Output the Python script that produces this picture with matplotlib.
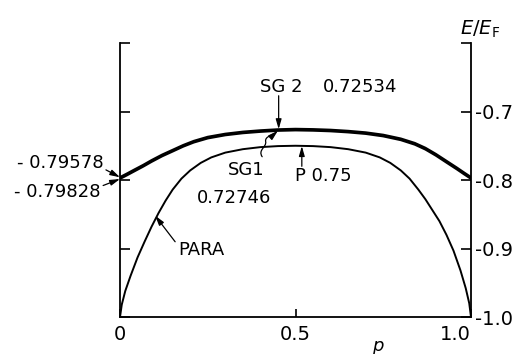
import matplotlib
matplotlib.use("Agg")
import matplotlib.pyplot as plt
from matplotlib.patches import FancyArrowPatch
from matplotlib.path import Path

plt.rcParams['font.family'] = ['DejaVu Sans']
plt.rcParams['axes.unicode_minus'] = False

# Paramagnetic (PARA) state energy versus polarization p
p_para = [0.000, 0.005, 0.015, 0.030, 0.050, 0.070, 0.090, 0.110, 0.130, 0.150,
          0.175, 0.200, 0.230, 0.260, 0.300, 0.350, 0.400, 0.450, 0.500, 0.550,
          0.600, 0.650, 0.700, 0.740, 0.770, 0.800, 0.825, 0.850, 0.870, 0.890,
          0.910, 0.930, 0.950, 0.970, 0.985, 0.995, 1.000]
e_para = [-1.000, -0.982, -0.962, -0.940, -0.913, -0.890, -0.868, -0.848, -0.830, -0.814,
          -0.798, -0.786, -0.775, -0.767, -0.760, -0.755, -0.752, -0.7505, -0.750, -0.7505,
          -0.752, -0.755, -0.760, -0.767, -0.775, -0.786, -0.798, -0.814, -0.828, -0.844,
          -0.860, -0.880, -0.903, -0.932, -0.958, -0.980, -1.000]

# Spin-glass solutions SG1 and SG2
p_sg = [0.000, 0.020, 0.040, 0.066, 0.090, 0.120, 0.150, 0.180, 0.210, 0.250,
        0.300, 0.350, 0.400, 0.450, 0.500, 0.550, 0.600, 0.650, 0.700, 0.750,
        0.800, 0.840, 0.870, 0.900, 0.930, 0.960, 0.980, 1.000]
e_sg2 = [-0.79578, -0.7905, -0.7850, -0.7780, -0.7710, -0.7630, -0.7560, -0.7490, -0.7430, -0.7370,
         -0.7325, -0.7295, -0.7275, -0.7260, -0.72534, -0.7258, -0.7267, -0.7283, -0.7305, -0.7340,
         -0.7395, -0.7460, -0.7530, -0.7620, -0.7720, -0.7820, -0.7890, -0.79578]
e_sg1 = [-0.79828, -0.7930, -0.7875, -0.7804, -0.7734, -0.7653, -0.7583, -0.7512, -0.7452, -0.7392,
         -0.7346, -0.7316, -0.7296, -0.7281, -0.72746, -0.7279, -0.7288, -0.7304, -0.7326, -0.7362,
         -0.7417, -0.7483, -0.7554, -0.7644, -0.7745, -0.7845, -0.7915, -0.79828]

y_ticks = [-1.0, -0.9, -0.8, -0.7, -0.6]
y_labels = ['-1.0', '-0.9', '-0.8', '-0.7', '']
x_ticks = [0.0, 0.5, 1.0]
x_labels = ['0', '0.5', '1.0']

fig = plt.figure(figsize=(5.22, 3.54), dpi=100)
ax = fig.add_axes([0.2299, 0.1045, 0.6724, 0.774])

ax.plot(p_para, e_para, color='black', lw=1.4)
ax.plot(p_sg, e_sg2, color='black', lw=1.6)
ax.plot(p_sg, e_sg1, color='black', lw=1.6)

ax.set_xlim(0, 1)
ax.set_ylim(-1.0, -0.6)
ax.spines['top'].set_visible(False)
for s in ('left', 'right', 'bottom'):
    ax.spines[s].set_linewidth(1.3)

ax.set_yticks(y_ticks)
ax.set_yticklabels(y_labels)
ax.yaxis.set_ticks_position('both')
ax.tick_params(axis='y', direction='in', length=7, width=1.2,
               labelleft=False, labelright=True, labelsize=14, pad=3)
ax.set_xticks(x_ticks)
ax.set_xticklabels(x_labels)
ax.tick_params(axis='x', direction='in', length=6, width=1.2, labelsize=14, pad=6)
ax.get_xticklabels()[-1].set_horizontalalignment('right')

fig.text(480 / 522, 1 - 35 / 354, r'$E/E_{\mathrm{F}}$', fontsize=14,
         ha='center', va='baseline')
fig.text(378 / 522, 1 - 351 / 354, 'p', fontsize=13, style='italic',
         ha='center', va='baseline')

arrow = dict(arrowstyle='-|>,head_length=0.45,head_width=0.13',
             color='black', lw=0.9, shrinkA=0, shrinkB=0, mutation_scale=13)
fs = 13

# End-point values at p = 0
ax.annotate('- 0.79578', xy=(0.0, -0.7960), xytext=(-0.048, -0.7752),
            ha='right', va='center', fontsize=fs, annotation_clip=False,
            arrowprops=dict(arrow, relpos=(1.0, 0.2)))
ax.annotate('- 0.79828', xy=(0.0, -0.7985), xytext=(-0.056, -0.8175),
            ha='right', va='center', fontsize=fs, annotation_clip=False,
            arrowprops=dict(arrow, relpos=(1.0, 0.8)))

# SG2 maximum
ax.text(0.398, -0.6715, 'SG 2', ha='left', va='baseline', fontsize=fs)
ax.text(0.578, -0.6715, '0.72534', ha='left', va='baseline', fontsize=fs)
ax.annotate('', xy=(0.452, -0.7258), xytext=(0.452, -0.6770),
            arrowprops=arrow)

# SG1 maximum with a wavy leader
ax.text(0.359, -0.7850, 'SG1', ha='center', va='center', fontsize=fs)
ax.text(0.325, -0.8260, '0.72746', ha='center', va='center', fontsize=fs)
wave = Path([(0.405, -0.7660),
             (0.392, -0.7560), (0.418, -0.7520), (0.415, -0.7440),
             (0.412, -0.7360), (0.435, -0.7350), (0.450, -0.7280)],
            [Path.MOVETO, Path.CURVE4, Path.CURVE4, Path.CURVE4,
             Path.CURVE4, Path.CURVE4, Path.CURVE4])
ax.add_patch(FancyArrowPatch(path=wave, arrowstyle='-|>,head_length=0.45,head_width=0.13',
                             mutation_scale=13, color='black', lw=0.9))

# Paramagnetic maximum
ax.text(0.499, -0.7940, 'P 0.75', ha='left', va='center', fontsize=fs)
ax.annotate('', xy=(0.518, -0.7505), xytext=(0.518, -0.7800),
            arrowprops=arrow)

# PARA label
ax.annotate('PARA', xy=(0.100, -0.8520), xytext=(0.165, -0.9020),
            ha='left', va='center', fontsize=fs,
            arrowprops=dict(arrow, relpos=(0.0, 0.75)))

fig.savefig('out.png', dpi=100)
